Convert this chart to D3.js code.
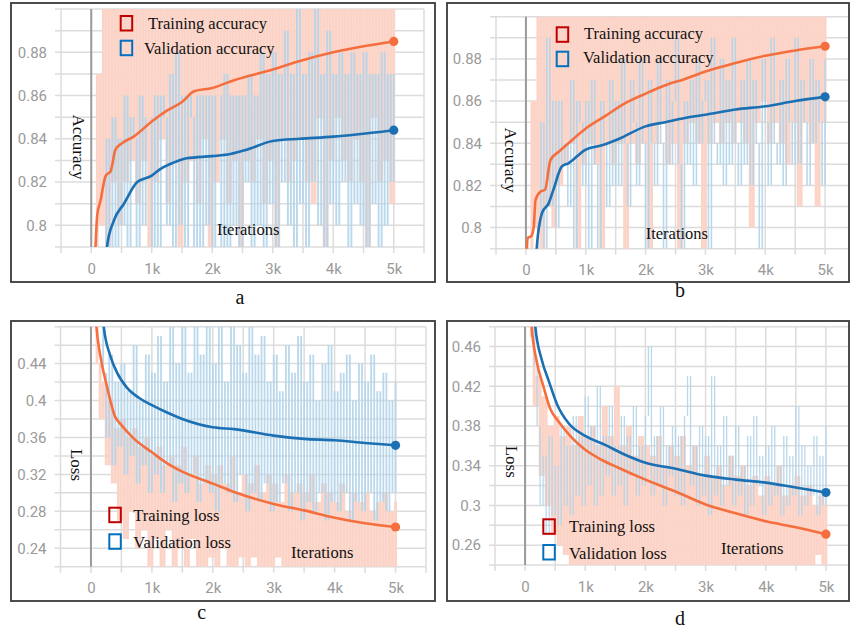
<!DOCTYPE html>
<html>
<head>
<meta charset="utf-8">
<script src="https://cdn.jsdelivr.net/npm/d3@7"></script>
<style>
	body { margin: 0; background: #fff; }
	.tick text { font-family: Roboto, "Open Sans", sans-serif; font-size: 15px; fill: #9a9a9a; }
	.serif { font-family: "Liberation Serif", "Times New Roman", serif; fill: #111; }
</style>
</head>
<body>
<svg id="chart" width="850" height="634"></svg>
<script>
// ---- data ----

// x axis
const xTicks = [0, 1000, 2000, 3000, 4000, 5000];
const xTickLabels = ["0", "1k", "2k", "3k", "4k", "5k"];
const rawStep = 50; // raw points are every 50 iterations, 0..5000

// y ticks
const accTicks = [0.8, 0.82, 0.84, 0.86, 0.88];
const lossTicksC = [0.24, 0.28, 0.32, 0.36, 0.4, 0.44];
const lossTicksD = [0.26, 0.3, 0.34, 0.38, 0.42, 0.46];

// captions and labels
const captions = ["a", "b", "c", "d"];
const accLegend = ["Training accuracy", "Validation accuracy"];
const lossLegend = ["Training loss", "Validation loss"];

// smoothed curves [iteration, value]
const aTrainSmooth = [[30,0.76],[70,0.79],[100,0.805],[150,0.811],[240,0.823],[320,0.825],[400,0.835],[510,0.838],[700,0.841],[1000,0.848],[1250,0.853],[1500,0.857],[1700,0.862],[2000,0.8635],[2350,0.867],[3000,0.872],[3450,0.876],[4000,0.880],[4550,0.883],[5000,0.885]];
const aValSmooth = [[230,0.78],[260,0.79],[370,0.802],[540,0.81],[760,0.82],[1000,0.823],[1140,0.826],[1360,0.829],[1580,0.831],[2000,0.832],[2300,0.833],[2570,0.835],[3000,0.839],[3450,0.84],[4000,0.841],[4380,0.842],[5000,0.844]];
const bTrainSmooth = [[10,0.785],[30,0.795],[90,0.796],[130,0.80],[160,0.813],[240,0.817],[320,0.818],[410,0.832],[550,0.836],[710,0.840],[1000,0.847],[1330,0.853],[1660,0.859],[2000,0.8635],[2330,0.8675],[2660,0.8705],[3000,0.874],[3500,0.878],[4000,0.8815],[4500,0.884],[5000,0.886]];
const bValSmooth = [[160,0.78],[180,0.79],[270,0.807],[380,0.8115],[460,0.818],[600,0.829],[710,0.8305],[1000,0.837],[1270,0.839],[1550,0.842],[2000,0.848],[2330,0.850],[2660,0.852],[3000,0.8535],[3500,0.856],[4000,0.8575],[4500,0.860],[5000,0.862]];
const cTrainSmooth = [[70,0.50],[90,0.48],[150,0.45],[260,0.416],[400,0.382],[480,0.375],[700,0.359],[1000,0.344],[1250,0.332],[1500,0.323],[2000,0.310],[2350,0.301],[3000,0.288],[3500,0.281],[4000,0.273],[4500,0.267],[5000,0.263]];
const cValSmooth = [[190,0.50],[210,0.48],[320,0.448],[430,0.430],[590,0.414],[810,0.402],[1000,0.395],[1250,0.387],[1500,0.380],[2000,0.371],[2350,0.369],[3000,0.362],[3500,0.3585],[4000,0.357],[4500,0.354],[5000,0.3515]];
const dTrainSmooth = [[90,0.50],[110,0.48],[190,0.446],[300,0.421],[420,0.397],[550,0.385],[780,0.368],[1000,0.356],[1270,0.346],[1550,0.338],[2000,0.326],[2500,0.314],[3000,0.301],[3500,0.292],[4000,0.284],[4500,0.278],[5000,0.271]];
const dValSmooth = [[150,0.50],[170,0.48],[280,0.446],[390,0.426],[530,0.402],[720,0.383],[1000,0.370],[1330,0.361],[1660,0.351],[2000,0.343],[2500,0.337],[3000,0.330],[3500,0.326],[4000,0.323],[4500,0.318],[5000,0.313]];

// raw (unsmoothed) values, one per 50 iterations
const aTrainRaw = [
	0.55,0.74,0.87,0.80,0.93,0.79,0.95,0.82,0.92,0.80,
	0.94,0.82,0.96,0.83,0.91,0.81,0.95,0.83,0.93,0.78,
	0.97,0.82,0.92,0.84,0.95,0.81,0.93,0.83,0.96,0.78,
	0.94,0.82,0.97,0.83,0.92,0.81,0.95,0.84,0.93,0.77,
	0.96,0.82,0.94,0.84,0.97,0.81,0.93,0.83,0.95,0.78,
	0.98,0.83,0.94,0.82,0.96,0.84,0.93,0.81,0.97,0.83,
	0.95,0.78,0.98,0.84,0.94,0.82,0.96,0.83,0.93,0.84,
	0.97,0.82,0.95,0.81,0.98,0.85,0.94,0.78,0.96,0.83,
	0.93,0.85,0.97,0.83,0.95,0.82,0.98,0.84,0.94,0.82,
	0.96,0.78,0.97,0.85,0.93,0.82,0.98,0.83,0.95,0.81,
	0.96];
const aValRaw = [
	0.50,0.62,0.70,0.76,0.79,0.84,0.78,0.85,0.79,0.84,
	0.80,0.86,0.79,0.85,0.84,0.79,0.86,0.80,0.85,0.85,
	0.79,0.86,0.78,0.86,0.85,0.80,0.87,0.79,0.88,0.80,
	0.86,0.78,0.86,0.85,0.79,0.86,0.78,0.86,0.80,0.86,
	0.78,0.86,0.86,0.79,0.87,0.78,0.86,0.80,0.86,0.79,
	0.86,0.82,0.87,0.79,0.86,0.80,0.88,0.79,0.87,0.81,
	0.88,0.79,0.87,0.82,0.89,0.80,0.87,0.78,0.90,0.81,
	0.87,0.79,0.88,0.82,0.91,0.80,0.87,0.79,0.89,0.81,
	0.87,0.80,0.88,0.82,0.87,0.79,0.88,0.81,0.87,0.80,
	0.88,0.78,0.87,0.81,0.87,0.79,0.88,0.80,0.87,0.82,
	0.87];
const bTrainRaw = [
	0.60,0.79,0.86,0.80,0.90,0.79,0.93,0.81,0.91,0.80,
	0.94,0.82,0.92,0.83,0.95,0.84,0.91,0.78,0.94,0.83,
	0.93,0.84,0.96,0.83,0.92,0.77,0.95,0.84,0.93,0.83,
	0.96,0.84,0.94,0.78,0.92,0.84,0.95,0.83,0.97,0.84,
	0.93,0.77,0.96,0.84,0.94,0.85,0.97,0.83,0.93,0.84,
	0.95,0.78,0.98,0.84,0.94,0.85,0.96,0.84,0.93,0.79,
	0.97,0.84,0.95,0.85,0.98,0.84,0.94,0.85,0.96,0.84,
	0.93,0.85,0.97,0.84,0.95,0.80,0.98,0.85,0.94,0.86,
	0.96,0.84,0.93,0.85,0.97,0.84,0.95,0.83,0.98,0.85,
	0.94,0.81,0.96,0.85,0.93,0.84,0.97,0.81,0.95,0.85,
	0.96];
const bValRaw = [
	0.55,0.66,0.72,0.77,0.80,0.85,0.79,0.89,0.81,0.86,
	0.80,0.86,0.83,0.84,0.81,0.87,0.78,0.86,0.85,0.82,
	0.86,0.78,0.87,0.83,0.78,0.86,0.84,0.81,0.87,0.82,
	0.86,0.82,0.88,0.84,0.81,0.87,0.85,0.82,0.88,0.84,
	0.78,0.87,0.84,0.82,0.88,0.84,0.78,0.87,0.83,0.86,
	0.89,0.83,0.78,0.86,0.83,0.87,0.82,0.88,0.84,0.86,
	0.87,0.78,0.89,0.84,0.83,0.88,0.82,0.87,0.83,0.89,
	0.84,0.82,0.87,0.83,0.88,0.82,0.87,0.84,0.78,0.88,
	0.85,0.82,0.89,0.84,0.83,0.87,0.82,0.88,0.85,0.83,
	0.89,0.83,0.87,0.85,0.82,0.88,0.84,0.87,0.85,0.82,
	0.88];
const cTrainRaw = [
	0.70,0.52,0.44,0.38,0.42,0.33,0.40,0.31,0.37,0.27,
	0.38,0.25,0.36,0.28,0.37,0.24,0.35,0.26,0.36,0.21,
	0.34,0.25,0.35,0.22,0.33,0.26,0.34,0.20,0.33,0.24,
	0.35,0.21,0.32,0.25,0.34,0.22,0.31,0.20,0.33,0.23,
	0.32,0.21,0.33,0.24,0.31,0.20,0.34,0.22,0.30,0.23,
	0.32,0.19,0.31,0.23,0.33,0.21,0.30,0.22,0.32,0.20,
	0.31,0.23,0.29,0.20,0.32,0.22,0.30,0.19,0.31,0.21,
	0.30,0.22,0.32,0.20,0.29,0.21,0.31,0.19,0.30,0.22,
	0.29,0.20,0.31,0.21,0.28,0.19,0.30,0.22,0.29,0.20,
	0.30,0.21,0.28,0.19,0.29,0.22,0.30,0.20,0.28,0.21,
	0.29];
const cValRaw = [
	0.80,0.65,0.55,0.48,0.43,0.36,0.45,0.33,0.42,0.35,
	0.44,0.32,0.41,0.34,0.46,0.31,0.40,0.33,0.45,0.30,
	0.43,0.32,0.47,0.30,0.42,0.33,0.49,0.29,0.44,0.31,
	0.48,0.30,0.43,0.32,0.50,0.29,0.45,0.31,0.49,0.30,
	0.44,0.28,0.48,0.31,0.42,0.30,0.50,0.29,0.46,0.32,
	0.43,0.28,0.49,0.30,0.45,0.29,0.47,0.31,0.42,0.28,
	0.45,0.29,0.41,0.31,0.46,0.28,0.43,0.30,0.47,0.27,
	0.42,0.29,0.45,0.28,0.40,0.30,0.44,0.27,0.46,0.29,
	0.41,0.28,0.43,0.30,0.45,0.27,0.40,0.29,0.44,0.28,
	0.42,0.30,0.45,0.27,0.41,0.29,0.43,0.28,0.40,0.30,
	0.42];
const dTrainRaw = [
	0.75,0.55,0.47,0.40,0.43,0.33,0.41,0.30,0.38,0.27,
	0.39,0.26,0.37,0.25,0.38,0.23,0.36,0.24,0.39,0.22,
	0.37,0.23,0.38,0.22,0.36,0.24,0.40,0.21,0.37,0.23,
	0.42,0.22,0.36,0.24,0.38,0.21,0.35,0.23,0.37,0.22,
	0.36,0.21,0.35,0.23,0.37,0.22,0.34,0.21,0.36,0.23,
	0.35,0.22,0.37,0.21,0.34,0.23,0.36,0.20,0.33,0.22,
	0.35,0.21,0.33,0.23,0.34,0.20,0.32,0.22,0.35,0.21,
	0.33,0.22,0.34,0.20,0.32,0.23,0.33,0.21,0.31,0.22,
	0.33,0.20,0.32,0.22,0.34,0.21,0.31,0.23,0.32,0.20,
	0.33,0.22,0.31,0.21,0.32,0.20,0.30,0.25,0.31,0.21,
	0.30];
const dValRaw = [
	0.85,0.62,0.50,0.44,0.38,0.30,0.35,0.27,0.37,0.29,
	0.34,0.28,0.38,0.30,0.36,0.29,0.39,0.31,0.37,0.30,
	0.41,0.32,0.38,0.30,0.42,0.31,0.37,0.33,0.40,0.31,
	0.36,0.32,0.39,0.30,0.37,0.33,0.40,0.31,0.36,0.32,
	0.39,0.46,0.31,0.37,0.32,0.40,0.30,0.36,0.33,0.38,
	0.31,0.37,0.30,0.39,0.43,0.32,0.36,0.30,0.38,0.31,
	0.37,0.29,0.43,0.31,0.36,0.30,0.39,0.32,0.35,0.30,
	0.38,0.31,0.34,0.29,0.37,0.30,0.39,0.32,0.35,0.29,
	0.36,0.30,0.38,0.31,0.34,0.29,0.37,0.30,0.35,0.31,
	0.40,0.29,0.36,0.30,0.34,0.31,0.37,0.29,0.35,0.30,
	0.38];

// ---- styling ----
const trainColour = "#f56e3d",
	valColour = "#1b6fb3",
	trainRawColour = "#fcd4c7",
	valRawColour = "#b3d4ea",
	gridColour = "#dcdcdc";

// panel layout (pixel boxes only; values come from the arrays above)
let panels = [
	{box:[11,3,435,282], xr:[61,424], yr:[247,9], yd:[0.79,0.9], yStep:0.01, yTicks:accTicks, valWidth:1.9,
		train:aTrainRaw, val:aValRaw, trainS:aTrainSmooth, valS:aValSmooth, name:"Accuracy", nameAt:[78,147],
		legend:accLegend, legX:[120.7,148,144], legY:[16,40.7], legBase:[29,54.3], iter:[217,235], cap:[240,304]},
	{box:[447,3,849,282], xr:[496,855], yr:[248.7,16.7], yd:[0.79,0.9], yStep:0.01, yTicks:accTicks, valWidth:1.6,
		train:bTrainRaw, val:bValRaw, trainS:bTrainSmooth, valS:bValSmooth, name:"Accuracy", nameAt:[510,160],
		legend:accLegend, legX:[556.7,584,583], legY:[27.3,51.7], legBase:[39.3,62.7], iter:[645.7,239], cap:[680,297]},
	{box:[11,321,435,601], xr:[60.5,426], yr:[566.7,326.7], yd:[0.22,0.48], yStep:0.02, yTicks:lossTicksC, valWidth:1.8,
		train:cTrainRaw, val:cValRaw, trainS:cTrainSmooth, valS:cValSmooth, name:"Loss", nameAt:[76.7,465],
		legend:lossLegend, legX:[109.3,133.3,133.3], legY:[507.7,534.3], legBase:[520.7,547.7], iter:[291,557.7], cap:[201.7,619]},
	{box:[447,321,849,601], xr:[495,856], yr:[565,326.7], yd:[0.24,0.48], yStep:0.02, yTicks:lossTicksD, valWidth:1.3,
		train:dTrainRaw, val:dValRaw, trainS:dTrainSmooth, valS:dValSmooth, name:"Loss", nameAt:[511,461.7],
		legend:lossLegend, legX:[543.3,569,569], legY:[519.3,545], legBase:[531.7,559.3], iter:[721,554.3], cap:[680,625]}
];

let svg = d3.select("#chart");

// raw series as vertical spikes: one stroke from the previous value to the current one
function spikePath(values, x, y) {
	let p = d3.path();
	values.forEach((v, k) => {
		if (k == 0) return;
		p.moveTo(x(k * rawStep), y(values[k - 1]));
		p.lineTo(x(k * rawStep), y(v));
	});
	return p.toString();
}

panels.forEach((p, i) => {
	let [bx0, by0, bx1, by1] = p.box;

	let x = d3.scaleLinear().domain([-500, 5500]).range(p.xr);
	let y = d3.scaleLinear().domain(p.yd).range(p.yr);

	// clip paths: whole frame and plot area
	let defs = svg.append("defs");
	defs.append("clipPath").attr("id", `box${i}`)
		.append("rect").attr("x", bx0).attr("y", by0).attr("width", bx1 - bx0).attr("height", by1 - by0);
	defs.append("clipPath").attr("id", `plot${i}`)
		.append("rect").attr("x", p.xr[0]).attr("y", p.yr[1]).attr("width", p.xr[1] - p.xr[0]).attr("height", p.yr[0] - p.yr[1]);

	let g = svg.append("g").attr("clip-path", `url(#box${i})`);

	// grid
	let yGrid = d3.range(Math.round((p.yd[1] - p.yd[0]) / p.yStep) + 1).map(k => p.yd[0] + k * p.yStep);
	g.selectAll(null).data(yGrid).join("line")
		.attr("x1", p.xr[0] - 6).attr("x2", p.xr[1])
		.attr("y1", d => y(d)).attr("y2", d => y(d))
		.attr("stroke", gridColour).attr("stroke-width", 1.5);
	g.selectAll(null).data(d3.range(-500, 5501, 500)).join("line")
		.attr("x1", d => x(d)).attr("x2", d => x(d))
		.attr("y1", p.yr[1]).attr("y2", p.yr[0] + 6)
		.attr("stroke", gridColour).attr("stroke-width", 1.5);

	// y axis at x = 0
	g.append("line")
		.attr("x1", x(0)).attr("x2", x(0)).attr("y1", p.yr[1]).attr("y2", p.yr[0])
		.attr("stroke", "#9a9a9a").attr("stroke-width", 2);

	// raw series
	let plot = g.append("g").attr("clip-path", `url(#plot${i})`);
	plot.append("path").attr("d", spikePath(p.train, x, y))
		.attr("fill", "none").attr("stroke", trainRawColour).attr("stroke-width", 2.9);
	plot.append("path").attr("d", spikePath(p.val, x, y))
		.attr("fill", "none").attr("stroke", valRawColour).attr("stroke-width", p.valWidth).attr("stroke-opacity", 0.9);

	// smoothed series
	let smoothLine = d3.line().curve(d3.curveMonotoneX).x(d => x(d[0])).y(d => y(d[1]));
	[[p.trainS, trainColour], [p.valS, valColour]].forEach(s => {
		plot.append("path").attr("d", smoothLine(s[0]))
			.attr("fill", "none").attr("stroke", s[1]).attr("stroke-width", 2.6);
		let last = s[0][s[0].length - 1];
		g.append("circle").attr("cx", x(last[0])).attr("cy", y(last[1])).attr("r", 4.6).attr("fill", s[1]);
	});

	// tick labels
	g.append("g").attr("transform", `translate(0,${p.yr[0]})`)
		.call(d3.axisBottom(x).tickValues(xTicks).tickFormat((d, k) => xTickLabels[k]).tickSize(0).tickPadding(16))
		.call(a => a.select(".domain").remove());
	g.append("g").attr("transform", `translate(${p.xr[0]},0)`)
		.call(d3.axisLeft(y).tickValues(p.yTicks).tickFormat(d => String(+d.toFixed(2))).tickSize(0).tickPadding(14))
		.call(a => a.select(".domain").remove());
	g.selectAll(".tick text").attr("font-family", null).attr("font-size", null);

	// axis name
	g.append("text").attr("class", "serif")
		.attr("transform", `translate(${p.nameAt[0]},${p.nameAt[1]}) rotate(90)`)
		.attr("text-anchor", "middle").attr("dominant-baseline", "central")
		.style("font-size", "17px").text(p.name);

	// legend
	[["#c00000", 0], ["#0070c0", 1]].forEach(l => {
		g.append("rect")
			.attr("x", p.legX[0]).attr("y", p.legY[l[1]]).attr("width", 11.5).attr("height", 14.5)
			.attr("fill", "none").attr("stroke", l[0]).attr("stroke-width", 2);
		g.append("text").attr("class", "serif")
			.attr("x", p.legX[l[1] + 1]).attr("y", p.legBase[l[1]])
			.style("font-size", "16.5px").text(p.legend[l[1]]);
	});

	g.append("text").attr("class", "serif")
		.attr("x", p.iter[0]).attr("y", p.iter[1])
		.style("font-size", "16.5px").text("Iterations");

	// frame
	svg.append("rect")
		.attr("x", bx0).attr("y", by0).attr("width", bx1 - bx0).attr("height", by1 - by0)
		.attr("fill", "none").attr("stroke", "#3a3a3a").attr("stroke-width", 1.8);

	// caption
	svg.append("text").attr("class", "serif")
		.attr("x", p.cap[0]).attr("y", p.cap[1]).attr("text-anchor", "middle")
		.style("font-size", "20px").text(captions[i]);
});
</script>
</body>
</html>
